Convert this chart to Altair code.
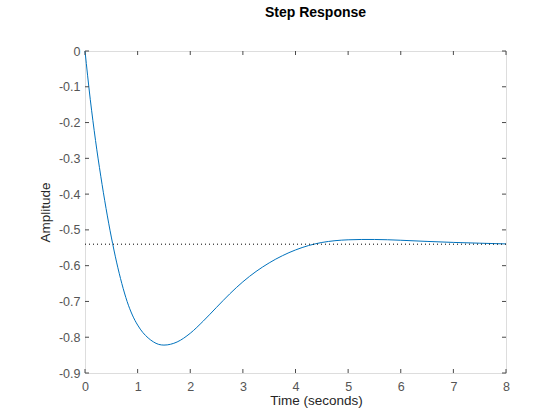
import altair as alt
import pandas as pd

# Step response samples (time in seconds, amplitude)
t_vals = [0.0, 0.1, 0.2, 0.3, 0.4, 0.5, 0.6, 0.7, 0.8, 0.9, 1.0, 1.1, 1.2, 1.3,
          1.4, 1.5, 1.75, 2.0, 2.25, 2.5, 2.75, 3.0, 3.25, 3.5, 3.75, 4.0,
          4.25, 4.5, 4.75, 5.0, 5.25, 5.5, 6.0, 6.5, 7.0, 7.5, 8.0]
amp_vals = [0.0, -0.135, -0.25, -0.35, -0.44, -0.52, -0.59, -0.65, -0.70, -0.738,
            -0.766, -0.787, -0.802, -0.813, -0.82, -0.822, -0.8133, -0.7889, -0.7545,
            -0.7164, -0.6789, -0.6451, -0.6163, -0.5922, -0.5722, -0.5561, -0.5437,
            -0.5352, -0.5302, -0.5277, -0.5268, -0.5268, -0.529, -0.5322, -0.535,
            -0.5372, -0.5392]
final_value = -0.54

x_ticks = [0, 1, 2, 3, 4, 5, 6, 7, 8]
y_ticks = [0, -0.1, -0.2, -0.3, -0.4, -0.5, -0.6, -0.7, -0.8, -0.9]

W, H = 421, 322
TICK = 4
AXIS_GRAY = "#4a4a4a"
LABEL_GRAY = "#555555"
FONT = "Liberation Sans"
# "0" for zero, one decimal otherwise, with a plain hyphen as minus sign
Y_LABEL = ("datum.value == 0 ? '0' : "
           "replace(format(datum.value, '.1f'), '\u2212', '-')")

resp = pd.DataFrame({"t": t_vals, "amp": amp_vals})
xt = pd.DataFrame({"t": x_ticks})
yt = pd.DataFrame({"amp": y_ticks})
fv = pd.DataFrame({"amp": [final_value]})

x_scale = alt.Scale(domain=[0, 8], nice=False, zero=False)
y_scale = alt.Scale(domain=[-0.9, 0], nice=False, zero=False)

x_axis = alt.Axis(
    values=x_ticks, ticks=False, tickSize=0, domain=False, grid=False,
    labelOverlap=False, labelFlush=False,
    labelPadding=7, labelFontSize=12.5, labelColor=LABEL_GRAY, labelFont=FONT,
    title="Time (seconds)", titleFont=FONT, titleFontSize=13.5, titleFontWeight="normal",
    titleColor="#262626", titleX=231, titleY=31, titleBaseline="alphabetic",
    titleAlign="center",
)
y_axis = alt.Axis(
    values=y_ticks, ticks=False, tickSize=0, domain=False, grid=False,
    labelOverlap=False, labelFlush=False, labelExpr=Y_LABEL,
    labelPadding=5, labelFontSize=12.5, labelColor=LABEL_GRAY, labelFont=FONT,
    title="Amplitude", titleFont=FONT, titleFontSize=13.5, titleFontWeight="normal",
    titleColor="#262626", titleX=-36, titleY=H / 2, titleAngle=-90,
    titleBaseline="alphabetic", titleAlign="center",
)


def xenc(field):
    return alt.X(field, scale=x_scale, axis=x_axis)


def yenc(field):
    return alt.Y(field, scale=y_scale, axis=y_axis)


line = alt.Chart(resp).mark_line(
    color="#0072BD", strokeWidth=1, interpolate="monotone"
).encode(x=xenc("t:Q"), y=yenc("amp:Q"))

steady = alt.Chart(fv).mark_rule(
    color="black", strokeWidth=1, strokeDash=[1, 3]
).encode(y=yenc("amp:Q"))

# inward tick marks on all four sides of the box
bottom_ticks = alt.Chart(xt).mark_rule(color=AXIS_GRAY, strokeWidth=1).encode(
    x=xenc("t:Q"), y=alt.value(H), y2=alt.value(H - TICK))
top_ticks = alt.Chart(xt).mark_rule(color=AXIS_GRAY, strokeWidth=1).encode(
    x=xenc("t:Q"), y=alt.value(0), y2=alt.value(TICK))
left_ticks = alt.Chart(yt).mark_rule(color=AXIS_GRAY, strokeWidth=1).encode(
    y=yenc("amp:Q"), x=alt.value(0), x2=alt.value(TICK))
right_ticks = alt.Chart(yt).mark_rule(color=AXIS_GRAY, strokeWidth=1).encode(
    y=yenc("amp:Q"), x=alt.value(W - TICK), x2=alt.value(W))

chart = alt.layer(
    line, steady, bottom_ticks, top_ticks, left_ticks, right_ticks
).properties(
    width=W,
    height=H,
    title=alt.TitleParams(
        "Step Response", font=FONT, fontSize=14, fontWeight="bold", color="black",
        anchor="middle", frame="group", dx=20, offset=14, baseline="alphabetic",
    ),
    autosize=alt.AutoSizeParams(type="none"),
    padding={"left": 85, "top": 51, "right": 54, "bottom": 47},
).configure_view(
    stroke=AXIS_GRAY, strokeWidth=1
).configure(background="white")

chart.save("out.html", embed_options={"renderer": "svg", "actions": False})
